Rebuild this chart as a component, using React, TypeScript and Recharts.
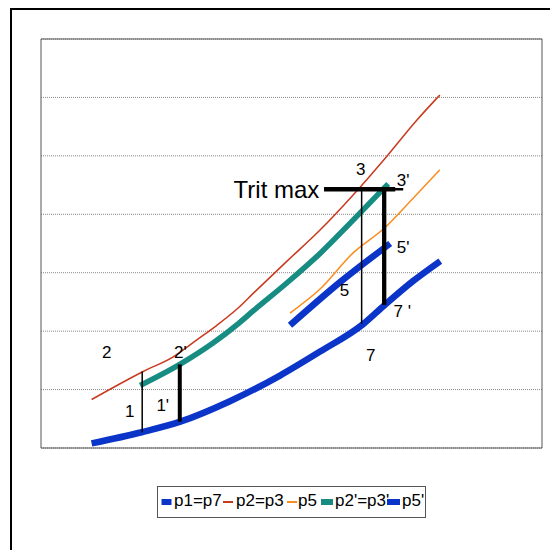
import React from 'react';
import {
  LineChart,
  Line,
  XAxis,
  YAxis,
  CartesianGrid,
  ReferenceArea,
  ReferenceDot,
  Legend,
} from 'recharts';

const FONT = '"Liberation Sans", Arial, Helvetica, sans-serif';

// ---- data (x: arbitrary horizontal unit 0..10, y: arbitrary vertical unit 0..7) ----
const yTicks = [0, 1, 2, 3, 4, 5, 6, 7];

const p1p7 = [
  { x: 1.01, y: 0.08 },
  { x: 2.01, y: 0.27 },
  { x: 2.78, y: 0.45 },
  { x: 3.77, y: 0.8 },
  { x: 4.77, y: 1.24 },
  { x: 5.57, y: 1.65 },
  { x: 6.43, y: 2.12 },
  { x: 6.85, y: 2.44 },
  { x: 7.43, y: 2.86 },
  { x: 7.97, y: 3.2 },
];

const p2p3 = [
  { x: 1.01, y: 0.83 },
  { x: 2.04, y: 1.31 },
  { x: 2.64, y: 1.56 },
  { x: 3.11, y: 1.85 },
  { x: 3.51, y: 2.1 },
  { x: 3.94, y: 2.4 },
  { x: 4.24, y: 2.65 },
  { x: 4.9, y: 3.19 },
  { x: 5.57, y: 3.73 },
  { x: 6.23, y: 4.33 },
  { x: 6.9, y: 4.99 },
  { x: 7.5, y: 5.61 },
  { x: 7.96, y: 6.04 },
];

const p5 = [
  { x: 4.97, y: 2.31 },
  { x: 5.57, y: 2.72 },
  { x: 6.23, y: 3.34 },
  { x: 6.85, y: 3.76 },
  { x: 7.4, y: 4.25 },
  { x: 7.96, y: 4.76 },
];

const p2p3prime = [
  { x: 1.98, y: 1.07 },
  { x: 2.77, y: 1.43 },
  { x: 3.44, y: 1.8 },
  { x: 3.94, y: 2.13 },
  { x: 4.24, y: 2.35 },
  { x: 4.9, y: 2.82 },
  { x: 5.57, y: 3.33 },
  { x: 6.23, y: 3.9 },
  { x: 6.93, y: 4.52 },
];

const p5prime = [
  { x: 4.97, y: 2.1 },
  { x: 6.0, y: 2.86 },
  { x: 6.97, y: 3.5 },
];

// annotation segments
const seg1 = [{ x: 2.02, y: 1.31 }, { x: 2.02, y: 0.27 }];
const seg1p = [{ x: 2.77, y: 1.43 }, { x: 2.77, y: 0.45 }];
const seg37 = [{ x: 6.4, y: 4.43 }, { x: 6.4, y: 2.13 }];
const seg37p = [{ x: 6.85, y: 4.43 }, { x: 6.85, y: 2.45 }];
const tritMaxBar = [{ x: 5.65, y: 4.43 }, { x: 7.07, y: 4.43 }];
const tritMaxTail = [{ x: 5.65, y: 4.43 }, { x: 7.23, y: 4.43 }];

const pointLabels = [
  { x: 1.31, y: 1.64, text: '2' },
  { x: 2.78, y: 1.65, text: "2'" },
  { x: 1.77, y: 0.64, text: '1' },
  { x: 2.43, y: 0.74, text: "1'" },
  { x: 6.38, y: 4.77, text: '3' },
  { x: 7.23, y: 4.59, text: "3'" },
  { x: 6.06, y: 2.71, text: '5' },
  { x: 7.23, y: 3.44, text: "5'" },
  { x: 6.58, y: 1.59, text: '7' },
  { x: 7.21, y: 2.35, text: "7 '" },
];
const tritLabel = { x: 4.7, y: 4.42, text: 'Trit max' };

const seriesNames = ['p1=p7', 'p2=p3', 'p5', "p2'=p3'", "p5'"];

// ---- styles ----
const BLUE = '#0A35C8';
const RED = '#C8391E';
const ORANGE = '#FA8C1E';
const TEAL = '#178C82';
const seriesColors = [BLUE, RED, ORANGE, TEAL, BLUE];

const legendLayout = [
  { sx: 4.5, sw: 10, thick: true, tx: 17 },
  { sx: 66, sw: 10, thick: false, tx: 79 },
  { sx: 130, sw: 10, thick: false, tx: 141 },
  { sx: 164, sw: 12, thick: true, tx: 178 },
  { sx: 230, sw: 13, thick: true, tx: 245 },
];

const renderLegend = () => {
  return (
    <svg width={270} height={33} style={{ display: 'block', overflow: 'visible' }}>
      <rect x={0.5} y={0.5} width={268} height={31} fill="#fff" stroke="#555" strokeWidth={1} />
      {seriesNames.map((name, i) => {
        const l = legendLayout[i];
        const c = seriesColors[i];
        return (
          <g key={i}>
            <text x={l.tx} y={20} fontSize={17} fontFamily={FONT} fill="#000">
              {name}
            </text>
            {l.thick ? (
              <rect x={l.sx} y={13} width={l.sw} height={6} fill={c} />
            ) : (
              <rect x={l.sx} y={15} width={l.sw} height={2} fill={c} />
            )}
          </g>
        );
      })}
    </svg>
  );
};

const common = {
  dataKey: 'y',
  dot: false as const,
  activeDot: false as const,
  isAnimationActive: false,
};

export default function App() {
  return (
    <div style={{ position: 'relative', width: 550, height: 542, background: '#fff' }}>
      <div
        style={{
          position: 'absolute',
          left: 2,
          top: 0,
          width: 548,
          height: 542,
          borderLeft: '2px solid #000',
          borderTop: '2px solid #000',
          boxSizing: 'border-box',
        }}
      />
      <div style={{ position: 'absolute', left: 0, top: 0 }}>
        <LineChart
          width={550}
          height={542}
          margin={{ top: 31, right: 16, bottom: 102, left: 33 }}
          style={{ fontFamily: FONT }}
        >
          <XAxis dataKey="x" type="number" domain={[0, 10]} hide allowDataOverflow />
          <YAxis type="number" domain={[0, 7]} ticks={yTicks} hide allowDataOverflow />
          <CartesianGrid vertical={false} stroke="#888" strokeDasharray="1 1" />
          <ReferenceArea x1={0} x2={10} y1={0} y2={7} fill="none" stroke="#555" strokeWidth={1} fillOpacity={0} />

          <Line {...common} data={p1p7} name={seriesNames[0]} type="monotone" stroke={BLUE} strokeWidth={6.5} />
          <Line {...common} data={p2p3} name={seriesNames[1]} type="monotone" stroke={RED} strokeWidth={1.5} />
          <Line {...common} data={p5} name={seriesNames[2]} type="monotone" stroke={ORANGE} strokeWidth={1.5} />
          <Line {...common} data={p2p3prime} name={seriesNames[3]} type="monotone" stroke={TEAL} strokeWidth={5.5} />
          <Line {...common} data={p5prime} name={seriesNames[4]} type="monotone" stroke={BLUE} strokeWidth={6.5} />

          <Line {...common} data={seg1} name="s1" legendType="none" type="linear" stroke="#000" strokeWidth={1.5} />
          <Line {...common} data={seg1p} name="s1p" legendType="none" type="linear" stroke="#000" strokeWidth={4} />
          <Line {...common} data={seg37} name="s37" legendType="none" type="linear" stroke="#000" strokeWidth={1.5} />
          <Line {...common} data={seg37p} name="s37p" legendType="none" type="linear" stroke="#000" strokeWidth={4.3} />
          <Line {...common} data={tritMaxTail} name="tmt" legendType="none" type="linear" stroke="#000" strokeWidth={2.5} />
          <Line {...common} data={tritMaxBar} name="tmb" legendType="none" type="linear" stroke="#000" strokeWidth={4.5} />

          {pointLabels.map((l, i) => (
            <ReferenceDot
              key={i}
              x={l.x}
              y={l.y}
              r={0}
              fill="none"
              stroke="none"
              isFront
              label={{ value: l.text, position: 'center', fontSize: 17, fill: '#000', fontFamily: FONT }}
            />
          ))}
          <ReferenceDot
            x={tritLabel.x}
            y={tritLabel.y}
            r={0}
            fill="none"
            stroke="none"
            isFront
            label={{ value: tritLabel.text, position: 'center', fontSize: 24, fill: '#000', fontFamily: FONT }}
          />

          <Legend
            verticalAlign="middle"
            align="center"
            layout="horizontal"
            wrapperStyle={{ left: 149, top: 478, width: 270, height: 33 }}
            content={renderLegend}
          />
        </LineChart>
      </div>
    </div>
  );
}
